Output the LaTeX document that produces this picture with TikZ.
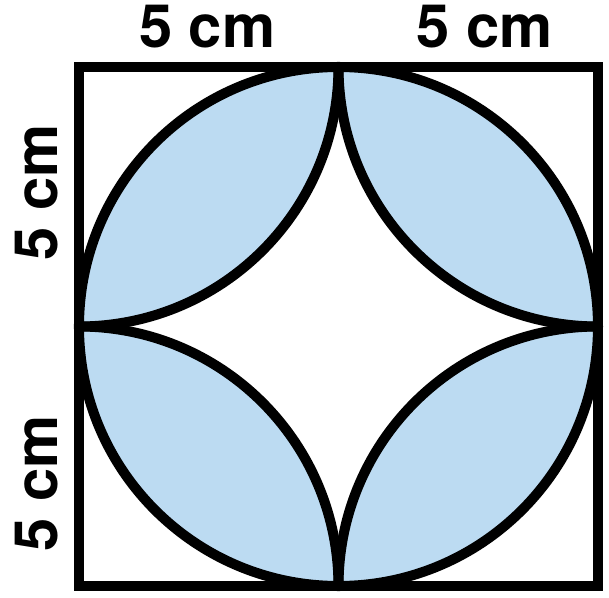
\documentclass[tikz,border=0pt]{standalone}
\usepackage{fontspec}
\setmainfont{TeX Gyre Heros}
\usepackage{xcolor}
\usepackage{tikz}
\definecolor{lensbleu}{HTML}{BCDBF2}
\tikzset{
  trait/.style={line width=5.7pt},
  cote/.style={font=\fontsize{34}{40}\selectfont\bfseries,inner sep=0pt}
}
\begin{document}
\begin{tikzpicture}[x=1.038cm,y=1.038cm]
  \useasboundingbox (-1.522,-0.212) rectangle (10.212,11.291);
  % fond bleu puis etoile blanche
  \fill[lensbleu] (5,5) circle[radius=5];
  \fill[white] (5,10) arc[start angle=0,end angle=-90,radius=5]
    arc[start angle=90,end angle=0,radius=5]
    arc[start angle=180,end angle=90,radius=5]
    arc[start angle=-90,end angle=-180,radius=5] -- cycle;
  % arcs de coin
  \foreach \cx/\cy/\a in {0/10/-90, 0/0/0, 10/0/90, 10/10/180}
    \draw[trait] (\cx,\cy) ++(\a:5) arc[start angle=\a,end angle=\a+90,radius=5];
  \draw[trait] (5,5) circle[radius=5];
  \draw[trait] (0,0) rectangle (10,10);
  % cotes
  \node[cote] (haut1) at (2.47,10.77) {5 cm};
  \node[cote] (haut2) at (7.82,10.77) {5 cm};
  \node[cote,rotate=90] (gauche1) at (-0.81,7.59) {5 cm};
  \node[cote,rotate=90] (gauche2) at (-0.81,1.98) {5 cm};
\end{tikzpicture}
\end{document}
